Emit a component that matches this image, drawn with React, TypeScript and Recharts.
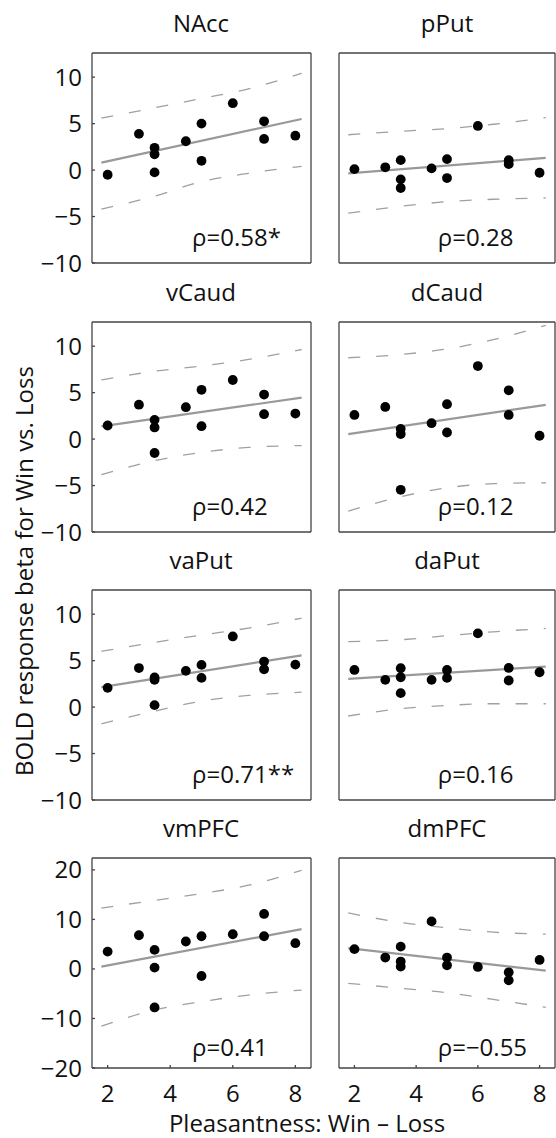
import React from "react";
import { ComposedChart, Scatter, Line, XAxis, YAxis, ReferenceDot } from "recharts";

// pleasantness rating (win - loss) per subject, same for every region
const pleasantness = [2, 3, 3.5, 3.5, 3.5, 4.5, 5, 5, 6, 7, 7, 8];
const fitX = [1.8, 8.2];
const bandX = [1.8, 3.5, 5, 6.5, 8.2];
const xTicks = [2, 4, 6, 8];
const yTicksSmall = [-10, -5, 0, 5, 10];
const yTicksLarge = [-20, -10, 0, 10, 20];

const regions = ["NAcc", "pPut", "vCaud", "dCaud", "vaPut", "daPut", "vmPFC", "dmPFC"];
const rhoLabels = ["ρ=0.58*", "ρ=0.28", "ρ=0.42", "ρ=0.12", "ρ=0.71**", "ρ=0.16", "ρ=0.41", "ρ=−0.55"];

// BOLD betas
const naccY = [-0.5, 3.9, 2.4, 1.7, -0.25, 3.1, 5.0, 1.0, 7.2, 5.25, 3.35, 3.7];
const pputY = [0.1, 0.3, 1.07, -1.0, -1.93, 0.18, 1.18, -0.86, 4.75, 1.07, 0.64, -0.29];
const vcaudY = [1.46, 3.7, 2.07, 1.25, -1.5, 3.43, 5.3, 1.39, 6.36, 4.79, 2.68, 2.75];
const dcaudY = [2.6, 3.46, 1.1, 0.54, -5.46, 1.71, 3.75, 0.71, 7.86, 5.25, 2.6, 0.36];
const vaputY = [2.07, 4.2, 3.2, 2.93, 0.21, 3.9, 4.54, 3.14, 7.6, 4.9, 4.07, 4.57];
const daputY = [4.0, 2.93, 4.18, 3.21, 1.5, 2.93, 4.0, 3.14, 7.93, 4.21, 2.86, 3.75];
const vmpfcY = [3.5, 6.8, 3.85, 0.27, -7.77, 5.54, 6.6, -1.42, 7.0, 11.1, 6.6, 5.2];
const dmpfcY = [4.0, 2.3, 4.5, 1.49, 0.47, 9.6, 2.3, 0.74, 0.4, -0.68, -2.3, 1.82];

// regression line ends
const naccFit = [0.8, 5.5];
const pputFit = [-0.36, 1.32];
const vcaudFit = [1.36, 4.46];
const dcaudFit = [0.54, 3.68];
const vaputFit = [2.14, 5.57];
const daputFit = [3.04, 4.36];
const vmpfcFit = [0.47, 8.04];
const dmpfcFit = [4.19, -0.34];

// confidence bands
const naccHi = [5.6, 6.7, 7.7, 8.75, 10.4];
const naccLo = [-4.2, -2.8, -1.25, -0.35, 0.4];
const pputHi = [3.8, 4.18, 4.46, 4.93, 5.64];
const pputLo = [-4.64, -3.9, -3.4, -3.14, -3.0];
const vcaudHi = [6.36, 7.3, 7.86, 8.57, 9.64];
const vcaudLo = [-3.82, -2.32, -1.43, -0.9, -0.7];
const dcaudHi = [8.75, 9.1, 9.7, 10.7, 12.25];
const dcaudLo = [-7.75, -6.2, -5.25, -4.8, -4.7];
const vaputHi = [6.0, 6.96, 7.75, 8.5, 9.57];
const vaputLo = [-1.79, -0.43, 0.64, 1.25, 1.6];
const daputHi = [7.04, 7.25, 7.68, 8.1, 8.46];
const daputLo = [-0.96, -0.18, 0.18, 0.36, 0.36];
const vmpfcHi = [12.3, 13.85, 15.2, 16.9, 19.9];
const vmpfcLo = [-11.55, -8.3, -6.6, -5.27, -4.26];
const dmpfcHi = [11.3, 9.4, 8.3, 7.43, 7.03];
const dmpfcLo = [-2.9, -3.92, -4.8, -6.15, -7.77];

const ys = [naccY, pputY, vcaudY, dcaudY, vaputY, daputY, vmpfcY, dmpfcY];
const fits = [naccFit, pputFit, vcaudFit, dcaudFit, vaputFit, daputFit, vmpfcFit, dmpfcFit];
const his = [naccHi, pputHi, vcaudHi, dcaudHi, vaputHi, daputHi, vmpfcHi, dmpfcHi];
const los = [naccLo, pputLo, vcaudLo, dcaudLo, vaputLo, daputLo, vmpfcLo, dmpfcLo];

const FONT = "'Open Sans', sans-serif";
const FS = 24;
const AXIS = "#444";
const ROW_TOPS = [53, 322, 590, 858];
const PANEL_H = 210;
const TOP_PAD = 14; // room above the box so the top tick label is not clipped
// chart box per column: left edge, width, left axis width; plot runs yw..width-1
const COLS = [
  { left: 0, width: 312, yw: 92, cx: 201 },
  { left: 310, width: 246, yw: 29, cx: 447 },
];

const fmt = (v: number) => String(v).replace("-", "\u2212");

const Dot = (props: any) => <circle cx={props.cx} cy={props.cy} r={4.9} fill="#000" />;

function Panel({ idx }: { idx: number }) {
  const row = Math.floor(idx / 2);
  const col = COLS[idx % 2];
  const bottom = row === 3;
  const big = row === 3;
  const yDomain = big ? [-20, 22.4] : [-10, 12.6];
  const yTicks = big ? yTicksLarge : yTicksSmall;
  const rhoY = big ? -15.8 : -7.3;
  const xh = bottom ? 44 : 22;
  const height = TOP_PAD + PANEL_H + xh;

  const points = pleasantness.map((x, i) => ({ x, y: ys[idx][i] }));
  const fit = fitX.map((x, i) => ({ x, y: fits[idx][i] }));
  const hi = bandX.map((x, i) => ({ x, y: his[idx][i] }));
  const lo = bandX.map((x, i) => ({ x, y: los[idx][i] }));

  const common = { stroke: AXIS, strokeWidth: 1.3 };

  return (
    <div style={{ position: "absolute", left: col.left, top: ROW_TOPS[row] - TOP_PAD }}>
      <ComposedChart
        width={col.width}
        height={height}
        margin={{ top: 0, right: 0, bottom: 0, left: 0 }}
      >
        <XAxis
          xAxisId="b"
          dataKey="x"
          type="number"
          domain={[1.5, 8.5]}
          allowDataOverflow
          ticks={xTicks}
          interval={0}
          height={xh}
          tickSize={-3}
          tickMargin={20}
          tick={bottom ? { fontSize: FS, fill: "#111" } : false}
          axisLine={common}
          tickLine={common}
        />
        <XAxis
          xAxisId="t"
          dataKey="x"
          orientation="top"
          type="number"
          domain={[1.5, 8.5]}
          allowDataOverflow
          ticks={xTicks}
          interval={0}
          height={TOP_PAD}
          tickSize={-3}
          tick={false}
          axisLine={common}
          tickLine={common}
        />
        <YAxis
          yAxisId="l"
          dataKey="y"
          type="number"
          domain={yDomain}
          allowDataOverflow
          ticks={yTicks}
          interval={0}
          width={col.yw}
          tickSize={-3}
          tickMargin={13}
          tickFormatter={fmt}
          tick={idx % 2 === 0 ? { fontSize: FS, fill: "#111" } : false}
          axisLine={common}
          tickLine={common}
        />
        <YAxis
          yAxisId="r"
          dataKey="y"
          orientation="right"
          type="number"
          domain={yDomain}
          allowDataOverflow
          ticks={yTicks}
          interval={0}
          width={1}
          tickSize={-3}
          tick={false}
          axisLine={common}
          tickLine={common}
        />
        <Scatter
          data={points}
          xAxisId="t"
          yAxisId="r"
          fillOpacity={0}
          shape={() => <g />}
          isAnimationActive={false}
        />
        <Line
          data={hi}
          dataKey="y"
          xAxisId="b"
          yAxisId="l"
          type="monotone"
          stroke="#a0a0a0"
          strokeWidth={1.3}
          strokeDasharray="12 16"
          dot={false}
          activeDot={false}
          isAnimationActive={false}
        />
        <Line
          data={lo}
          dataKey="y"
          xAxisId="b"
          yAxisId="l"
          type="monotone"
          stroke="#a0a0a0"
          strokeWidth={1.3}
          strokeDasharray="12 16"
          dot={false}
          activeDot={false}
          isAnimationActive={false}
        />
        <Line
          data={fit}
          dataKey="y"
          xAxisId="b"
          yAxisId="l"
          type="linear"
          stroke="#999"
          strokeWidth={2.2}
          dot={false}
          activeDot={false}
          isAnimationActive={false}
        />
        <Scatter
          data={points}
          xAxisId="b"
          yAxisId="l"
          fill="#000"
          shape={Dot}
          isAnimationActive={false}
        />
        <ReferenceDot
          x={4.7}
          y={rhoY}
          xAxisId="b"
          yAxisId="l"
          r={0}
          fill="none"
          stroke="none"
          label={{ value: rhoLabels[idx], position: "right", offset: 0, fontSize: FS, fill: "#111" }}
        />
      </ComposedChart>
    </div>
  );
}

export default function App() {
  return (
    <div
      style={{
        position: "absolute",
        left: 0,
        top: 0,
        width: 556,
        height: 1138,
        background: "#fff",
        fontFamily: FONT,
      }}
    >
      {regions.map((_, i) => (
        <Panel key={i} idx={i} />
      ))}
      <svg
        width={556}
        height={1138}
        style={{ position: "absolute", left: 0, top: 0, pointerEvents: "none" }}
        fontFamily={FONT}
        fontSize={FS}
        fill="#111"
      >
        {regions.map((name, i) => (
          <text
            key={name}
            x={COLS[i % 2].cx}
            y={ROW_TOPS[Math.floor(i / 2)] - 21}
            textAnchor="middle"
          >
            {name}
          </text>
        ))}
        <text x={33} y={571} textAnchor="middle" transform="rotate(-90 33 571)">
          BOLD response beta for Win vs. Loss
        </text>
        <text x={307} y={1132} textAnchor="middle">
          Pleasantness: Win – Loss
        </text>
      </svg>
    </div>
  );
}
